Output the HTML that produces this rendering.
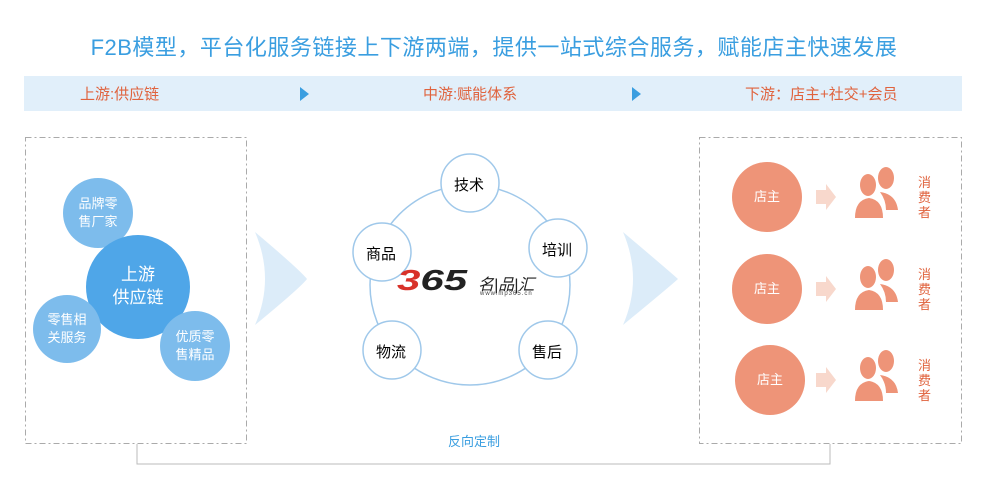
<!DOCTYPE html>
<html><head><meta charset="utf-8"><style>
body{margin:0;width:988px;height:497px;background:#fff;font-family:"Liberation Sans","Noto Sans CJK SC",sans-serif;position:relative;overflow:hidden}
.a{position:absolute}
.c{position:absolute;border-radius:50%;display:flex;align-items:center;justify-content:center;text-align:center;color:#fff;line-height:1.35}
</style></head><body>
<div class="a" style="left:0;width:988px;top:30px;text-align:center;font-size:22px;color:#3a9ee0;letter-spacing:0.5px">F2B模型，平台化服务链接上下游两端，提供一站式综合服务，赋能店主快速发展</div>
<div class="a" style="left:24px;top:76px;width:938px;height:35px;background:#e1effa"></div>
<div class="a" style="left:80px;top:83px;font-size:15px;color:#e0633e">上游:供应链</div>
<div class="a" style="left:423px;top:83px;font-size:15px;color:#e0633e">中游:赋能体系</div>
<div class="a" style="left:745px;top:83px;font-size:15px;color:#e0633e">下游：店主+社交+会员</div>
<div class="a" style="left:300px;top:87px;width:0;height:0;border-left:9px solid #3a9ee0;border-top:7px solid transparent;border-bottom:7px solid transparent"></div>
<div class="a" style="left:632px;top:87px;width:0;height:0;border-left:9px solid #3a9ee0;border-top:7px solid transparent;border-bottom:7px solid transparent"></div>
<svg class="a" style="left:0;top:0" width="988" height="497">
<rect x="25.5" y="137.5" width="221" height="306" fill="none" stroke="#aaa" stroke-dasharray="6,3,2,3"/>
<rect x="699.5" y="137.5" width="262" height="306" fill="none" stroke="#aaa" stroke-dasharray="6,3,2,3"/>
<path d="M137 444 V464 H830 V444" fill="none" stroke="#bbb"/>
<path d="M255 232 Q300 270 307 279 Q300 288 255 325 Q275 279 255 232Z" fill="#dcecf9"/>
<path d="M623 232 Q668 270 678 279 Q668 288 623 325 Q643 279 623 232Z" fill="#dcecf9"/>
<circle cx="470" cy="285" r="100" fill="none" stroke="#9fc8ea" stroke-width="1.5"/>
<g fill="#fff" stroke="#9fc8ea" stroke-width="1.5">
<circle cx="470" cy="183" r="29"/><circle cx="558" cy="248" r="29"/><circle cx="548" cy="350" r="29"/><circle cx="392" cy="350" r="29"/><circle cx="382" cy="252" r="29"/></g>
<g fill="#f8d8cc"><path d="M816 190 h10 v-6 l10 13 l-10 13 v-6 h-10z"/><path d="M816 282 h10 v-6 l10 13 l-10 13 v-6 h-10z"/><path d="M816 373 h10 v-6 l10 13 l-10 13 v-6 h-10z"/></g>
<g fill="#ee9478">
<g><ellipse cx="868" cy="185" rx="8" ry="11"/><path d="M855 218 q0-18 14-20 q14 2 14 20z"/><ellipse cx="886" cy="178" rx="8" ry="11"/><path d="M880 192 q16 2 18 18 h-12 q0-10 -6-18z"/></g>
<g transform="translate(0,92)"><ellipse cx="868" cy="185" rx="8" ry="11"/><path d="M855 218 q0-18 14-20 q14 2 14 20z"/><ellipse cx="886" cy="178" rx="8" ry="11"/><path d="M880 192 q16 2 18 18 h-12 q0-10 -6-18z"/></g>
<g transform="translate(0,183)"><ellipse cx="868" cy="185" rx="8" ry="11"/><path d="M855 218 q0-18 14-20 q14 2 14 20z"/><ellipse cx="886" cy="178" rx="8" ry="11"/><path d="M880 192 q16 2 18 18 h-12 q0-10 -6-18z"/></g>
</g>
</svg>
<div class="c" style="left:63px;top:178px;width:70px;height:70px;background:#7dbcec;font-size:13px">品牌零<br>售厂家</div>
<div class="c" style="left:86px;top:235px;width:104px;height:104px;background:#4fa6e8;font-size:17px">上游<br>供应链</div>
<div class="c" style="left:33px;top:295px;width:68px;height:68px;background:#7dbcec;font-size:13px">零售相<br>关服务</div>
<div class="c" style="left:160px;top:311px;width:70px;height:70px;background:#7dbcec;font-size:13px">优质零<br>售精品</div>
<div class="a" style="left:454px;top:174px;font-size:15px">技术</div>
<div class="a" style="left:542px;top:239px;font-size:15px">培训</div>
<div class="a" style="left:532px;top:341px;font-size:15px">售后</div>
<div class="a" style="left:376px;top:341px;font-size:15px">物流</div>
<div class="a" style="left:366px;top:243px;font-size:15px">商品</div>
<div class="a" style="left:397px;top:265px;font-size:29px;line-height:32px;font-weight:bold;font-style:italic;color:#222;transform:scaleX(1.45);transform-origin:left top"><span style="color:#d8322a">3</span>65</div>
<div class="a" style="left:478px;top:271px;font-size:16px;font-style:italic;color:#222">名|品|汇</div>
<div class="a" style="left:480px;top:291px;font-size:6px;color:#444;letter-spacing:1px">www.mp365.cn</div>
<div class="c" style="left:732px;top:162px;width:70px;height:70px;background:#ee9478;font-size:13px">店主</div>
<div class="c" style="left:732px;top:254px;width:70px;height:70px;background:#ee9478;font-size:13px">店主</div>
<div class="c" style="left:735px;top:345px;width:70px;height:70px;background:#ee9478;font-size:13px">店主</div>
<div class="a" style="left:918px;top:175px;width:14px;font-size:13px;line-height:15px;color:#e0633e">消费者</div>
<div class="a" style="left:918px;top:267px;width:14px;font-size:13px;line-height:15px;color:#e0633e">消费者</div>
<div class="a" style="left:918px;top:358px;width:14px;font-size:13px;line-height:15px;color:#e0633e">消费者</div>
<div class="a" style="left:448px;top:431px;font-size:13px;color:#3a9ee0">反向定制</div>
</body></html>
